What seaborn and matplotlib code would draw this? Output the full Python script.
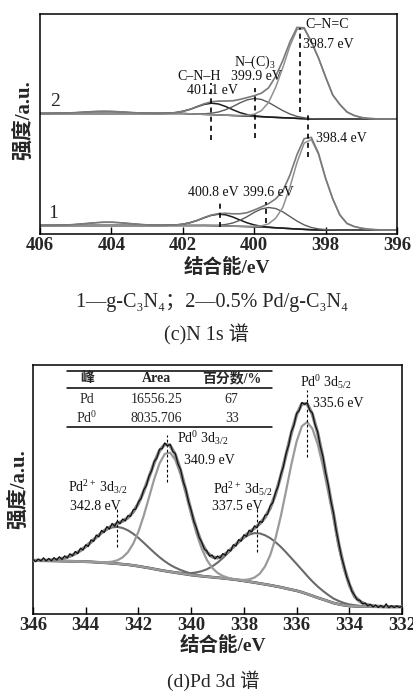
import numpy as np
import matplotlib
matplotlib.use("Agg")
import matplotlib.pyplot as plt
from matplotlib.lines import Line2D
import seaborn as sns

# ------------------------------------------------------------------ data
# (c) N 1s  -- binding energy grid (eV) and curve heights (a.u.)
n1s_energy = np.round(np.linspace(406.0, 396.0, 51), 1)

# spectrum 1 : g-C3N4
s1_background = [8.5, 8.5, 8.5, 8.5, 8.5, 8.5, 8.5, 8.5, 8.5, 8.5, 8.5, 8.5, 8.5, 8.5, 8.5, 8.5,
                 8.5, 8.5, 8.5, 8.5, 8.5, 8.5, 8.5, 8.5, 8.4, 8.2, 8.0, 7.8, 7.6, 7.4, 7.2, 6.9,
                 6.6, 6.2, 5.8, 5.4, 5.0, 4.6, 4.3, 4.1, 4.0, 4.0, 4.0, 4.0, 4.0, 4.0, 4.0, 4.0,
                 4.0, 4.0, 4.0]
s1_satellite = [0, 0.1, 0.15, 0.3, 0.6, 1.1, 1.7, 2.3, 2.9, 3.25, 3.25, 2.9, 2.3, 1.7, 1.1, 0.6,
                0.3, 0.15, 0.05, 0, 0, 0, 0, 0, 0, 0, 0, 0, 0, 0, 0, 0,
                0, 0, 0, 0, 0, 0, 0, 0, 0, 0, 0, 0, 0, 0, 0, 0, 0, 0, 0]
s1_cnh = [0, 0, 0, 0, 0, 0, 0, 0, 0, 0, 0, 0, 0, 0, 0, 0, 0,
          0.05, 0.2, 0.5, 1.3, 2.8, 5.0, 7.8, 10.3, 11.6, 11.2, 9.2, 6.4, 3.8, 1.9, 0.8, 0.3, 0.1,
          0, 0, 0, 0, 0, 0, 0, 0, 0, 0, 0, 0, 0, 0, 0, 0, 0]
s1_nc3 = [0, 0, 0, 0, 0, 0, 0, 0, 0, 0, 0, 0, 0, 0, 0, 0, 0, 0, 0, 0, 0, 0, 0,
          0.1, 0.2, 0.6, 1.5, 3.2, 6.1, 9.9, 14.4, 18.1, 19.9, 19.3, 16.4, 12.1, 7.9, 4.5, 2.2,
          1.0, 0.4, 0.2, 0, 0, 0, 0, 0, 0, 0, 0, 0]
s1_cnc = [0, 0, 0, 0, 0, 0, 0, 0, 0, 0, 0, 0, 0, 0, 0, 0, 0, 0, 0, 0, 0, 0, 0, 0, 0, 0, 0, 0,
          0.1, 0.2, 0.5, 1.2, 3.5, 9.5, 20.7, 41.4, 66.6, 86.3, 90.1, 75.8, 51.4, 31.0, 15.0,
          6.5, 3.5, 1.8, 0.8, 0.3, 0.1, 0, 0]

# spectrum 2 : 0.5% Pd/g-C3N4
s2_background = [120.5, 120.5, 120.5, 120.5, 120.5, 120.5, 120.5, 120.5, 120.5, 120.5, 120.5,
                 120.5, 120.5, 120.5, 120.5, 120.5, 120.5, 120.5, 120.5, 120.5, 120.5,
                 120.2, 119.9, 119.6, 119.4, 119.1, 118.8, 118.5, 118.2, 117.9, 117.6, 117.3,
                 116.9, 116.6, 116.3, 116.0, 115.6, 115.3,
                 115.0, 115.0, 115.0, 115.0, 115.0, 115.0, 115.0, 115.0, 115.0, 115.0, 115.0,
                 115.0, 115.0]
s2_satellite = [0, 0, 0.15, 0.3, 0.55, 0.9, 1.34, 1.77, 2.08, 2.2, 2.08, 1.77, 1.34, 0.9, 0.55,
                0.3, 0.15, 0, 0, 0, 0, 0, 0, 0, 0, 0, 0, 0, 0, 0, 0, 0, 0, 0,
                0, 0, 0, 0, 0, 0, 0, 0, 0, 0, 0, 0, 0, 0, 0, 0, 0]
s2_cnh = [0, 0, 0, 0, 0, 0, 0, 0, 0, 0, 0, 0, 0, 0, 0, 0, 0,
          0.1, 0.3, 0.9, 2.2, 4.4, 7.3, 10.0, 11.4, 10.9, 8.7, 5.8, 3.2, 1.5, 0.6, 0.2,
          0, 0, 0, 0, 0, 0, 0, 0, 0, 0, 0, 0, 0, 0, 0, 0, 0, 0, 0]
s2_nc3 = [0, 0, 0, 0, 0, 0, 0, 0, 0, 0, 0, 0, 0, 0, 0, 0, 0, 0, 0, 0, 0, 0,
          0.3, 0.6, 1.4, 2.9, 5.5, 8.9, 12.9, 16.2, 17.9, 17.3, 14.7, 10.9, 7.1, 4.0, 2.0,
          0.9, 0.3, 0.1, 0, 0, 0, 0, 0, 0, 0, 0, 0, 0, 0]
s2_cnc = [0, 0, 0, 0, 0, 0, 0, 0, 0, 0, 0, 0, 0, 0, 0, 0, 0, 0, 0, 0, 0, 0, 0, 0, 0, 0, 0, 0,
          0.3, 0.8, 2.2, 6.0, 14.5, 30.0, 50.0, 72.0, 89.0, 90.0, 77.0, 61.0, 42.0, 24.0, 14.5,
          7.0, 3.5, 1.5, 0.6, 0.2, 0, 0, 0]

n1s_labels = ["C–N–H", "401.1 eV", "N–(C)$_3$", "399.9 eV", "C–N=C", "398.7 eV",
              "398.4 eV", "400.8 eV", "399.6 eV"]
n1s_label_E = [401.55, 401.18, 399.98, 399.95, 398.58, 398.63, 398.27, 401.15, 399.59]
n1s_label_I = [157, 144, 172, 158, 209, 189, 96, 41, 41]
n1s_label_ha = ["center", "center", "center", "center", "left", "left", "left", "center", "center"]
n1s_mark_E = [401.2, 399.97, 398.72, 398.5, 400.95, 399.68]
n1s_mark_lo = [94, 96, 122, 77, 7, 11]
n1s_mark_hi = [151, 146, 206, 122, 34, 32]
n1s_ticks = [406, 404, 402, 400, 398, 396]

# (d) Pd 3d
pd_energy = np.round(np.linspace(346.0, 332.0, 71), 1)
pd_background = [53.5, 53.4, 53.3, 53.2, 53.1, 53.0, 52.9, 52.8, 52.6, 52.5, 52.3, 52.1, 51.8,
                 51.5, 51.1, 50.7, 50.3, 49.8, 49.3, 48.6, 47.8, 46.9, 46.0, 45.0, 44.0, 43.1,
                 42.2, 41.4, 40.6, 39.8, 39.0, 38.4, 37.8, 37.3, 36.8, 36.3, 35.8, 35.2, 34.6,
                 33.9, 33.1, 32.3, 31.5, 30.6, 29.7, 28.8, 27.8, 26.8, 25.6, 24.4, 23.3, 21.8,
                 20.0, 18.2, 16.3, 14.6, 12.8, 11.0, 9.8, 8.8, 8.1, 7.8, 7.6, 7.5, 7.4, 7.3,
                 7.3, 7.3, 7.3, 7.3, 7.3]
pd2_3d32 = [0.1, 0.2, 0.3, 0.6, 1.0, 1.9, 3.1, 5.0, 7.6, 11.0, 15.1, 19.8, 24.8, 29.5, 33.3,
            35.9, 36.8, 36.2, 34.4, 31.7, 28.3, 24.4, 20.3, 16.4, 12.8, 9.6, 7.0, 5.0, 3.4,
            2.3, 1.4, 0.9, 0.5, 0.3, 0.2,
            0, 0, 0, 0, 0, 0, 0, 0, 0, 0, 0, 0, 0, 0, 0, 0, 0, 0, 0, 0, 0, 0, 0, 0, 0, 0,
            0, 0, 0, 0, 0, 0, 0, 0, 0, 0]
pd0_3d32 = [0, 0, 0, 0, 0, 0, 0, 0, 0, 0, 0, 0,
            0.1, 0.3, 0.7, 1.6, 3.4, 6.8, 12.5, 21.6, 34.5, 51.3, 70.5, 90.0, 106.5, 117.0,
            119.2, 112.7, 98.8, 80.4, 60.7, 42.5, 27.6, 16.6, 9.3, 4.8, 2.3, 1.0, 0.4, 0.2,
            0, 0, 0, 0, 0, 0, 0, 0, 0, 0, 0, 0, 0, 0, 0, 0, 0, 0, 0, 0, 0, 0, 0, 0, 0, 0,
            0, 0, 0, 0, 0]
pd2_3d52 = [0, 0, 0, 0, 0, 0, 0, 0, 0, 0, 0, 0, 0, 0, 0, 0, 0, 0, 0, 0, 0, 0, 0, 0, 0, 0,
            0.2, 0.3, 0.6, 1.1, 1.9, 3.2, 5.0, 7.5, 10.8, 15.0, 20.1, 25.8, 31.9, 37.7, 43.0,
            47.0, 49.4, 50.0, 49.1, 47.1, 44.1, 40.4, 36.1, 31.5, 26.8, 22.4, 18.2, 14.4,
            11.2, 8.5, 6.3, 4.5, 3.2, 2.2, 1.5, 1.0, 0.6, 0.4, 0.2, 0.1,
            0, 0, 0, 0, 0]
pd0_3d52 = [0, 0, 0, 0, 0, 0, 0, 0, 0, 0, 0, 0, 0, 0, 0, 0, 0, 0, 0, 0, 0, 0, 0, 0, 0, 0, 0,
            0, 0, 0, 0, 0, 0, 0, 0, 0, 0, 0,
            0.2, 0.4, 1.0, 2.3, 4.9, 9.6, 17.7, 30.1, 47.8, 70.7, 97.4, 124.9, 149.1, 166.0,
            172.0, 167.2, 153.6, 133.3, 109.2, 84.6, 57.0, 36.0, 20.0, 9.0, 4.5, 2.0, 1.0,
            0.4, 0.2, 0, 0, 0, 0]

pd_raw_energy = np.round(np.linspace(346.0, 332.0, 141), 1)
pd_raw = [54.5, 52.3, 55.0, 53.1, 56.2, 53.0, 55.6, 53.2, 56.4, 54.0, 57.3, 54.6, 58.2, 56.0,
          60.3, 58.1, 62.5, 60.4, 65.8, 64.0, 69.2, 67.5, 74.1, 72.6, 78.9, 77.2, 83.6, 81.5,
          87.4, 85.0, 90.6, 87.8, 92.9, 90.2, 95.0, 93.1, 98.4, 97.6, 104.2, 105.0, 112.3,
          115.4, 124.1, 128.3, 138.0, 143.2, 152.6, 156.1, 164.8, 165.3, 171.0, 168.0, 169.8,
          162.6, 160.5, 150.1, 144.5, 132.3, 124.6, 112.2, 104.0, 92.8, 86.1, 76.8, 72.0,
          64.9, 63.0, 57.8, 58.9, 55.0, 58.0, 55.9, 60.4, 58.6, 64.1, 63.0, 69.3, 68.0, 74.4,
          72.9, 79.2, 77.6, 83.8, 82.0, 88.1, 86.2, 92.5, 91.6, 98.7, 99.8, 108.1, 111.4,
          121.5, 127.6, 139.5, 147.2, 160.6, 168.8, 182.3, 188.7, 200.6, 203.5, 211.5, 209.6,
          211.3, 203.8, 201.0, 189.3, 182.2, 167.6, 157.5, 141.2, 129.4, 113.0, 101.2, 84.0,
          71.1, 57.4, 48.1, 37.2, 30.7, 22.6, 18.9, 14.1, 13.8, 10.2, 11.0, 8.1, 9.7, 7.1,
          9.0, 6.5, 8.6, 6.4, 10.2, 6.2, 8.3, 6.4, 8.1, 6.6, 7.5]

pd_labels = ["Pd$^{0}$ 3d$_{5/2}$", "335.6 eV", "Pd$^{0}$ 3d$_{3/2}$", "340.9 eV",
             "Pd$^{2+}$ 3d$_{3/2}$", "342.8 eV", "Pd$^{2+}$ 3d$_{5/2}$", "337.5 eV"]
pd_label_E = [335.87, 335.38, 340.54, 340.27, 344.67, 344.60, 339.17, 339.21]
pd_label_I = [232, 211, 176, 154, 127, 107, 125, 107]
pd_mark_E = [342.83, 340.9, 337.49, 335.62]
pd_mark_lo = [67, 132, 62, 157]
pd_mark_hi = [107, 179, 107, 224]
pd_ticks = [346, 344, 342, 340, 338, 336, 334, 332]

table_header = ["峰", "Area", "百分数/%"]
table_rows = [["Pd", "16556.25", "67"], ["Pd$^{0}$", "8035.706", "33"]]

# ------------------------------------------------------------------ style
sns.set_theme(style="white")
SERIF = ["Liberation Serif", "DejaVu Serif", "Noto Sans CJK SC"]
plt.rcParams["font.family"] = SERIF
plt.rcParams["mathtext.fontset"] = "custom"
plt.rcParams["mathtext.rm"] = "Liberation Serif"
plt.rcParams["mathtext.it"] = "Liberation Serif:italic"
plt.rcParams["mathtext.bf"] = "Liberation Serif:bold"
plt.rcParams["mathtext.default"] = "regular"

W, H = 414, 693
fig = plt.figure(figsize=(W / 100, H / 100), dpi=100)
fig.patch.set_facecolor("white")


def fx(px):
    return px / W


def fy(py):
    return 1 - py / H


ax1 = fig.add_axes([fx(40), fy(234), 357 / W, 220 / H])
ax2 = fig.add_axes([fx(33), fy(614), 369 / W, 249 / H])


def line(ax, x, y, color, lw, z=2):
    sns.lineplot(x=x, y=y, ax=ax, color=color, linewidth=lw, estimator=None, sort=False,
                 zorder=z)


# ------------------------------------------------------------------ N 1s panel
for bg, sat, cnh, nc3, cnc in [(s1_background, s1_satellite, s1_cnh, s1_nc3, s1_cnc),
                               (s2_background, s2_satellite, s2_cnh, s2_nc3, s2_cnc)]:
    bg = np.array(bg)
    env = bg + np.array(sat) + np.array(cnh) + np.array(nc3) + np.array(cnc)
    line(ax1, n1s_energy, bg, "#3a3a3a", 1.1)
    line(ax1, n1s_energy, bg + np.array(sat), "#555555", 0.9)
    line(ax1, n1s_energy, bg + np.array(cnh), "#1e1e1e", 1.1)
    line(ax1, n1s_energy, bg + np.array(nc3), "#5c5c5c", 1.0)
    line(ax1, n1s_energy, bg + np.array(cnc), "#909090", 1.1)
    line(ax1, n1s_energy, env, "#7a7a7a", 1.2)

ax1.vlines(n1s_mark_E, n1s_mark_lo, n1s_mark_hi, colors="black", linewidth=1.2,
           linestyles=(0, (3, 2.5)))
for t, e, i, ha in zip(n1s_labels, n1s_label_E, n1s_label_I, n1s_label_ha):
    ax1.text(e, i, t, ha=ha, va="center", fontsize=10, color="#111111")
ax1.text(405.58, 132, "2", ha="center", va="center", fontsize=14)
ax1.text(405.64, 21, "1", ha="center", va="center", fontsize=14)

ax1.set_xlim(406, 396)
ax1.set_ylim(0, 220)
ax1.set_xticks(n1s_ticks)
ax1.set_xticklabels([str(t) for t in n1s_ticks])

# ------------------------------------------------------------------ Pd 3d panel
bg = np.array(pd_background)
env = bg + np.array(pd2_3d32) + np.array(pd0_3d32) + np.array(pd2_3d52) + np.array(pd0_3d52)
line(ax2, pd_energy, bg, "#3a3a3a", 2.0)
line(ax2, pd_energy, bg + np.array(pd2_3d32), "#6a6a6a", 1.5)
line(ax2, pd_energy, bg + np.array(pd2_3d52), "#6a6a6a", 1.5)
line(ax2, pd_energy, bg + np.array(pd0_3d32), "#9a9a9a", 1.6)
line(ax2, pd_energy, bg + np.array(pd0_3d52), "#9a9a9a", 1.6)
line(ax2, pd_energy, env, "#858585", 2.4, z=3)
line(ax2, pd_raw_energy, pd_raw, "#111111", 0.9, z=4)

ax2.vlines(pd_mark_E, pd_mark_lo, pd_mark_hi, colors="black", linewidth=0.8,
           linestyles=(0, (2.5, 2)))
for t, e, i in zip(pd_labels, pd_label_E, pd_label_I):
    ax2.text(e, i, t, ha="left", va="center", fontsize=10, color="#111111")


# table
def axx(px):
    return (px - 33) / 369


def axy(py):
    return (614 - py) / 249


for py in [370.7, 387.7, 426.7]:
    ax2.add_line(Line2D([axx(66.7), axx(271.7)], [axy(py), axy(py)], transform=ax2.transAxes,
                        color="black", linewidth=1.1))
col_px = [86.7, 156.7, 231.7]
for c, t in zip(col_px, table_header):
    ax2.text(axx(c), axy(378.3), t, transform=ax2.transAxes, ha="center", va="center",
             fontsize=10, fontweight="bold")
for r, py in zip(table_rows, [399.3, 418.3]):
    for c, t in zip(col_px, r):
        ax2.text(axx(c), axy(py), t, transform=ax2.transAxes, ha="center", va="center",
                 fontsize=10)

ax2.set_xlim(346, 332)
ax2.set_ylim(0, 249)
ax2.set_xticks(pd_ticks)
ax2.set_xticklabels([str(t) for t in pd_ticks])

# ------------------------------------------------------------------ axes cosmetics
for ax in (ax1, ax2):
    ax.set_yticks([])
    ax.set_xlabel("")
    ax.set_ylabel("")
    for s in ax.spines.values():
        s.set_color("black")
        s.set_linewidth(1.1)
    ax.tick_params(axis="x", direction="in", length=5, width=1.0, color="black", pad=2.5,
                   bottom=True, labelsize=13.5)
    for lab in ax.get_xticklabels():
        lab.set_fontweight("bold")
        lab.set_family(SERIF)
    ax.set_facecolor("white")

lab_kw = dict(fontsize=14, fontweight="bold", family=SERIF)
ylab_kw = dict(fontsize=15, fontweight="bold", family=SERIF)
fig.text(fx(227), fy(267), "结合能/eV", ha="center", va="center", **lab_kw)
fig.text(fx(25), fy(120), "强度/a.u.", ha="center", va="center", rotation=90, **ylab_kw)
fig.text(fx(223), fy(645), "结合能/eV", ha="center", va="center", **lab_kw)
fig.text(fx(20), fy(489), "强度/a.u.", ha="center", va="center", rotation=90, **ylab_kw)

cap_kw = dict(fontsize=14.5, family=SERIF, ha="center", va="center")
fig.text(fx(212), fy(302), "1—g-C₃N₄；2—0.5% Pd/g-C₃N₄", **cap_kw)
fig.text(fx(206), fy(335), "(c)N 1s 谱", **cap_kw)
fig.text(fx(213), fy(681), "(d)Pd 3d 谱", fontsize=14, family=SERIF, ha="center", va="center")

fig.savefig("out.png", dpi=100, facecolor="white")
